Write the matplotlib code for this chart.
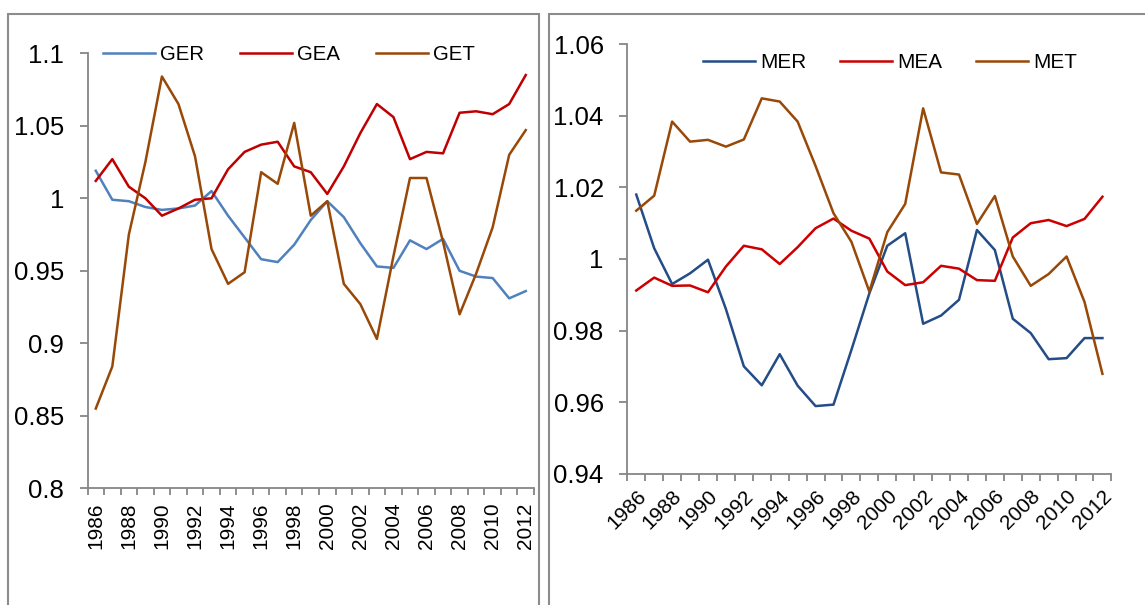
import matplotlib
matplotlib.use("Agg")
import matplotlib.pyplot as plt
from matplotlib.patches import Rectangle

plt.rcParams['font.family'] = ['Liberation Sans', 'DejaVu Sans']

years = list(range(1986, 2013))
year_labels = [str(y) if (y - 1986) % 2 == 0 else "" for y in years]

GER = [1.019, 0.999, 0.998, 0.994, 0.992, 0.993, 0.995, 1.005, 0.988, 0.973,
       0.958, 0.956, 0.968, 0.985, 0.998, 0.987, 0.969, 0.953, 0.952, 0.971,
       0.965, 0.972, 0.950, 0.946, 0.945, 0.931, 0.936]
GEA = [1.012, 1.027, 1.008, 1.000, 0.988, 0.993, 0.999, 1.000, 1.020, 1.032,
       1.037, 1.039, 1.022, 1.018, 1.003, 1.022, 1.045, 1.065, 1.056, 1.027,
       1.032, 1.031, 1.059, 1.060, 1.058, 1.065, 1.085]
GET = [0.855, 0.884, 0.975, 1.025, 1.084, 1.065, 1.029, 0.965, 0.941, 0.949,
       1.018, 1.010, 1.052, 0.988, 0.998, 0.941, 0.927, 0.903, 0.960, 1.014,
       1.014, 0.970, 0.920, 0.948, 0.980, 1.030, 1.047]

MER = [1.018, 1.003, 0.993, 0.996, 0.9998, 0.986, 0.970, 0.9647, 0.9734, 0.9646,
       0.9589, 0.9593, 0.9746, 0.9904, 1.0037, 1.0072, 0.9819, 0.9842, 0.9886, 1.0081,
       1.0025, 0.9833, 0.9793, 0.972, 0.9723, 0.9779, 0.9779]
MEA = [0.9912, 0.9948, 0.9925, 0.9926, 0.9907, 0.9979, 1.0037, 1.0027, 0.9986, 1.0033,
       1.0086, 1.0113, 1.0079, 1.0057, 0.9965, 0.9927, 0.9935, 0.9981, 0.9973, 0.9941,
       0.9939, 1.0060, 1.0100, 1.0109, 1.0092, 1.0112, 1.0174]
MET = [1.0135, 1.0177, 1.0384, 1.0328, 1.0333, 1.0314, 1.0334, 1.0449, 1.0440, 1.0384,
       1.0260, 1.0128, 1.0048, 0.9909, 1.0075, 1.0154, 1.0421, 1.0242, 1.0236, 1.0098,
       1.0176, 1.0007, 0.9925, 0.9958, 1.0007, 0.9880, 0.9679]

left_yticks = [0.8, 0.85, 0.9, 0.95, 1.0, 1.05, 1.1]
left_ylabels = ["0.8", "0.85", "0.9", "0.95", "1", "1.05", "1.1"]
right_yticks = [0.94, 0.96, 0.98, 1.0, 1.02, 1.04, 1.06]
right_ylabels = ["0.94", "0.96", "0.98", "1", "1.02", "1.04", "1.06"]

W, H = 1145, 605
fig = plt.figure(figsize=(W / 100, H / 100), dpi=100)

GRAY = "#868686"

# panel borders
for (x0, x1) in [(8, 539), (549, 1160)]:
    fig.patches.append(Rectangle((x0 / W, -0.05), (x1 - x0) / W, 1 - 13.5 / H + 0.05,
                                 transform=fig.transFigure, fill=False,
                                 edgecolor="#8c8c8c", linewidth=1.5, clip_on=False))


def style(ax, yticks, ylabels, ylim, rot):
    n = len(years)
    ax.set_xlim(-0.5, n - 0.5)
    ax.set_ylim(*ylim)
    for s in ("top", "right"):
        ax.spines[s].set_visible(False)
    for s in ("left", "bottom"):
        ax.spines[s].set_color(GRAY)
        ax.spines[s].set_linewidth(1.3)
    ax.set_yticks(yticks)
    ax.set_yticklabels(ylabels)
    ax.tick_params(axis="y", direction="out", length=6, width=1.3, color=GRAY,
                   labelsize=18.5, pad=11)
    ax.set_xticks(range(n))
    ax.set_xticks([i - 0.5 for i in range(n + 1)], minor=True)
    ax.tick_params(axis="x", which="minor", direction="out", length=5, width=1.3, color=GRAY)
    if rot == 90:
        ax.set_xticklabels(year_labels, rotation=90, ha="center", va="top")
        ax.tick_params(axis="x", which="major", length=0, labelsize=15, pad=10)
    else:
        ax.set_xticklabels(year_labels, rotation=45, ha="right", va="top",
                           rotation_mode="anchor")
        ax.tick_params(axis="x", which="major", length=0, labelsize=15, pad=9)


x = list(range(len(years)))

# left panel
ax1 = fig.add_axes([87.5 / W, 1 - 488.3 / H, 446.5 / W, 435 / H])
ax1.plot(x, GER, color="#4F81BD", lw=1.8, label="GER")
ax1.plot(x, GEA, color="#C00000", lw=1.8, label="GEA")
ax1.plot(x, GET, color="#984807", lw=1.8, label="GET")
style(ax1, left_yticks, left_ylabels, (0.8, 1.1), 90)
fig.legend(handles=ax1.get_lines(), loc="center left",
           bbox_to_anchor=(103 / W, 1 - 55 / H), ncol=3, frameon=False,
           fontsize=14.7, handlelength=2.55, handletextpad=0.25, columnspacing=1.75,
           borderpad=0, borderaxespad=0)

# right panel
ax2 = fig.add_axes([627.3 / W, 1 - 473.7 / H, 484.1 / W, 429.4 / H])
ax2.plot(x, MER, color="#244C86", lw=1.8, label="MER")
ax2.plot(x, MEA, color="#CC0000", lw=1.8, label="MEA")
ax2.plot(x, MET, color="#984807", lw=1.8, label="MET")
style(ax2, right_yticks, right_ylabels, (0.94, 1.06), 45)
fig.legend(handles=ax2.get_lines(), loc="center left",
           bbox_to_anchor=(703 / W, 1 - 63 / H), ncol=3, frameon=False,
           fontsize=14.9, handlelength=2.5, handletextpad=0.25, columnspacing=1.65,
           borderpad=0, borderaxespad=0)

fig.savefig("out.png", dpi=100)
